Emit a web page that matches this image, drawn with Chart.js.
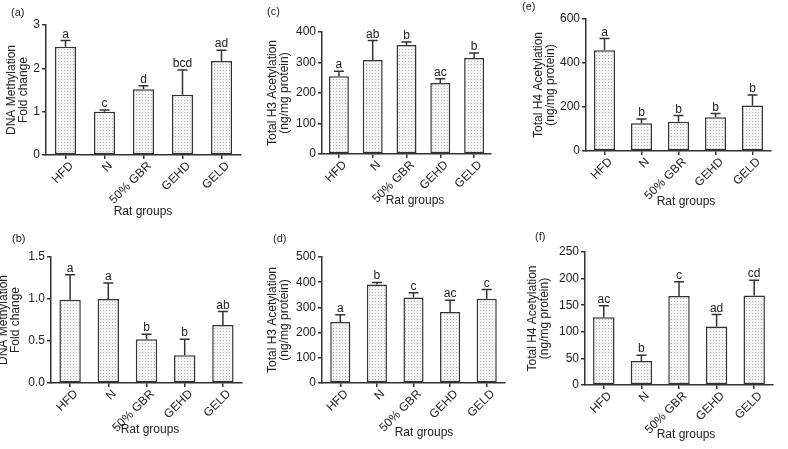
<!DOCTYPE html>
<html>
<head>
<meta charset="utf-8">
<script src="https://cdn.jsdelivr.net/npm/chart.js@4"></script>
<style>
  body { margin: 0; background: #fff; }
  .panel { position: absolute; }
</style>
</head>
<body>
<div id="wrap" style="position:relative;width:788px;height:449px;"></div>
<script>
const groups = ["HFD", "N", "50% GBR", "GEHD", "GELD"];
const xTitle = "Rat groups";

// (a) and (b) DNA methylation, fold change
const methylA = [2.5, 1.0, 1.52, 1.39, 2.17];
const methylAErr = [0.14, 0.04, 0.08, 0.57, 0.25];
const methylALetters = ["a", "c", "d", "bcd", "ad"];

const methylB = [0.99, 1.0, 0.52, 0.33, 0.69];
const methylBErr = [0.3, 0.19, 0.06, 0.19, 0.16];
const methylBLetters = ["a", "a", "b", "b", "ab"];

// (c) and (d) total H3 acetylation
const h3C = [255, 308, 357, 233, 315];
const h3CErr = [16, 64, 10, 14, 16];
const h3CLetters = ["a", "ab", "b", "ac", "b"];

const h3D = [242, 391, 339, 282, 334];
const h3DErr = [29, 8, 19, 46, 37];
const h3DLetters = ["a", "b", "c", "ac", "c"];

// (e) and (f) total H4 acetylation
const h4E = [458, 126, 133, 153, 207];
const h4EErr = [53, 19, 28, 17, 47];
const h4ELetters = ["a", "b", "b", "b", "b"];

const h4F = [127.5, 45, 167.5, 110, 168];
const h4FErr = [21.5, 11, 26.5, 22.5, 29];
const h4FLetters = ["ac", "b", "c", "ad", "cd"];

const methylTitle = ["DNA Methylation", "Fold change"];
const h3Title = ["Total H3 Acetylation", "(ng/mg protein)"];
const h4Title = ["Total H4 Acetylation", "(ng/mg protein)"];

const FONT = "'Liberation Sans', Arial, sans-serif";
const INK = "#333";
Chart.defaults.font.family = FONT;
Chart.defaults.font.size = 12;
Chart.defaults.color = "#222";

// dotted fill like the original bars
function makeDots() {
  const c = document.createElement("canvas");
  c.width = 3;
  c.height = 3;
  const g = c.getContext("2d");
  g.fillStyle = "#f5f5f5";
  g.fillRect(0, 0, 3, 3);
  g.fillStyle = "#b4b4b4";
  g.fillRect(1, 1, 1, 1);
  return g.createPattern(c, "repeat");
}

// error bars, letters, panel tag and x title
const errorBars = {
  id: "errorBars",
  afterDatasetsDraw(chart, args, opts) {
    const { ctx } = chart;
    const y = chart.scales.y;
    const values = chart.data.datasets[0].data;
    const meta = chart.getDatasetMeta(0);
    ctx.save();
    ctx.strokeStyle = INK;
    ctx.lineWidth = 1.5;
    ctx.fillStyle = "#222";
    ctx.font = "12px " + FONT;
    ctx.textAlign = "center";
    ctx.textBaseline = "alphabetic";
    meta.data.forEach((bar, i) => {
      const top = y.getPixelForValue(values[i] + opts.errors[i]);
      ctx.beginPath();
      ctx.moveTo(bar.x, bar.y);
      ctx.lineTo(bar.x, top);
      ctx.moveTo(bar.x - 5, top);
      ctx.lineTo(bar.x + 5, top);
      ctx.stroke();
      ctx.fillText(opts.letters[i], bar.x, top - 3);
    });
    ctx.textBaseline = "middle";
    ctx.fillText(xTitle, opts.titleX, opts.titleY);
    ctx.font = "11px " + FONT;
    ctx.textAlign = "left";
    ctx.fillText(opts.tag, opts.tagX, opts.tagY);
    ctx.restore();
  },
};

// box = canvas position on page, area = wanted chart area (page coords)
const panels = [
  { tag: "(a)", tagX: 11, tagY: 13, box: [0, 0, 260, 225], area: [46, 241, 25, 155],
    data: methylA, errors: methylAErr, letters: methylALetters, title: methylTitle,
    max: 3, step: 1, digits: 0, yPad: 5, xt: [143, 212], barPct: 0.54 },
  { tag: "(c)", tagX: 7, tagY: 12, box: [260, 0, 260, 225], area: [322, 491, 32, 154],
    data: h3C, errors: h3CErr, letters: h3CLetters, title: h3Title,
    max: 400, step: 100, digits: 0, yPad: 6, xt: [415, 201], barPct: 0.59 },
  { tag: "(e)", tagX: 2, tagY: 7, box: [520, 0, 268, 225], area: [586, 771, 19, 151],
    data: h4E, errors: h4EErr, letters: h4ELetters, title: h4Title,
    max: 600, step: 200, digits: 0, yPad: 12, xt: [686, 202], barPct: 0.57 },
  { tag: "(b)", tagX: 12, tagY: 14, box: [0, 225, 260, 224], area: [51, 242, 257, 383],
    data: methylB, errors: methylBErr, letters: methylBLetters, title: methylTitle,
    max: 1.5, step: 0.5, digits: 1, yPad: -3, xt: [150, 430], barPct: 0.56 },
  { tag: "(d)", tagX: 13, tagY: 14, box: [260, 225, 260, 224], area: [322, 505, 257, 383],
    data: h3D, errors: h3DErr, letters: h3DLetters, title: h3Title,
    max: 500, step: 100, digits: 0, yPad: 6, xt: [424, 433], barPct: 0.55 },
  { tag: "(f)", tagX: 15, tagY: 12, box: [520, 225, 268, 224], area: [585, 773, 252, 385],
    data: h4F, errors: h4FErr, letters: h4FLetters, title: h4Title,
    max: 250, step: 50, digits: 0, yPad: 6, xt: [686, 435], barPct: 0.57 },
];

const wrap = document.getElementById("wrap");

panels.forEach((p) => {
  const [bx, by, bw, bh] = p.box;
  const [L, R, T, B] = p.area;
  const div = document.createElement("div");
  div.className = "panel";
  div.style.left = bx + "px";
  div.style.top = by + "px";
  const canvas = document.createElement("canvas");
  canvas.width = bw;
  canvas.height = bh;
  div.appendChild(canvas);
  wrap.appendChild(div);

  new Chart(canvas, {
    type: "bar",
    data: {
      labels: groups,
      datasets: [
        {
          data: p.data,
          backgroundColor: makeDots(),
          borderColor: INK,
          borderWidth: 1.5,
          borderSkipped: false,
          barPercentage: p.barPct,
          categoryPercentage: 1,
        },
      ],
    },
    options: {
      responsive: false,
      animation: false,
      layout: { padding: { top: T - by, right: bx + bw - R, left: 0, bottom: 0 } },
      plugins: {
        legend: { display: false },
        tooltip: { enabled: false },
        errorBars: {
          errors: p.errors, letters: p.letters, tag: p.tag, tagX: p.tagX, tagY: p.tagY,
          titleX: p.xt[0] - bx, titleY: p.xt[1] - by,
        },
      },
      scales: {
        x: {
          afterFit: (s) => { s.height = bh - (B - by); },
          grid: { drawOnChartArea: false, offset: false, tickLength: 4, color: INK, lineWidth: 1.5 },
          border: { display: true, color: INK, width: 1.5 },
          ticks: { minRotation: 45, maxRotation: 45, padding: 0, labelOffset: 6, color: "#222" },
        },
        y: {
          min: 0,
          max: p.max,
          afterFit: (s) => { s.width = L - bx; },
          grid: { drawOnChartArea: false, tickLength: 4, color: INK, lineWidth: 1.5 },
          border: { display: true, color: INK, width: 1.5 },
          ticks: {
            stepSize: p.step,
            padding: 2,
            color: "#222",
            callback: (v) => Number(v).toFixed(p.digits),
          },
          title: {
            display: true,
            text: p.title,
            font: { size: 12, lineHeight: 1.05 },
            padding: { top: p.yPad, bottom: 0 },
            color: "#222",
          },
        },
      },
    },
    plugins: [errorBars],
  });
});
</script>
</body>
</html>
